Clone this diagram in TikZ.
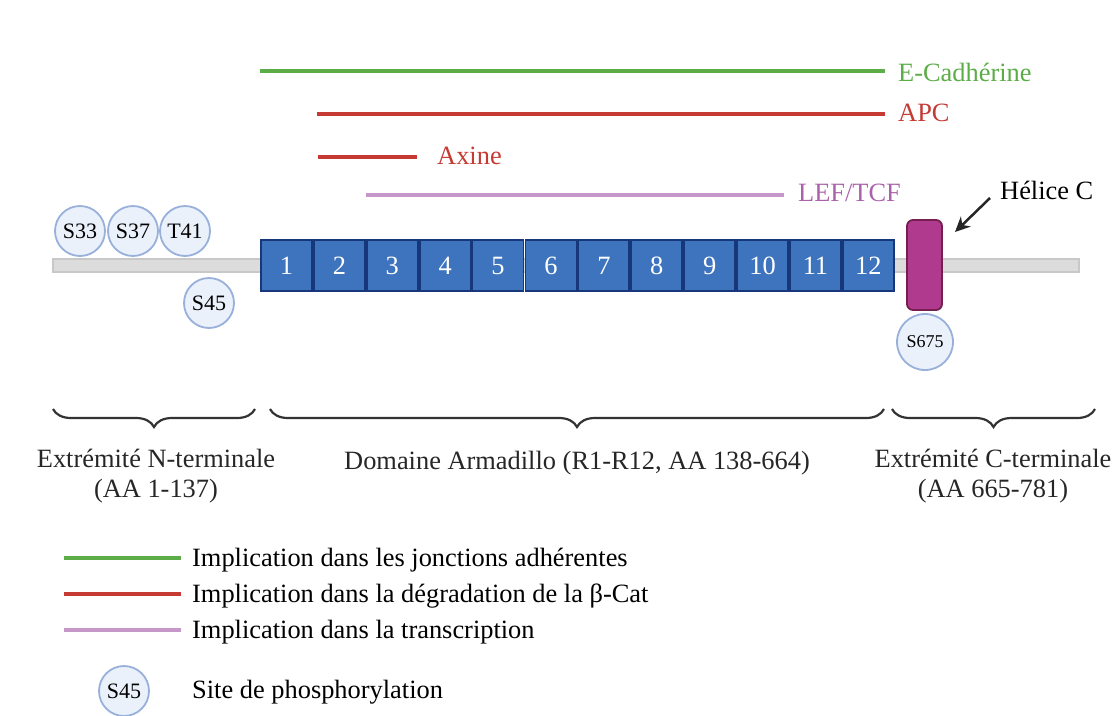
\documentclass[tikz,border=0pt]{standalone}
\usepackage{fontspec}
\setmainfont{Liberation Serif}
\usepackage{tikz}
\usetikzlibrary{positioning,arrows.meta,decorations.pathreplacing}
\definecolor{cadgreen}{RGB}{92,172,72}
\definecolor{apcred}{RGB}{198,58,52}
\definecolor{leflight}{RGB}{198,152,202}
\definecolor{lefdark}{RGB}{170,98,170}
\definecolor{armfill}{RGB}{62,116,190}
\definecolor{armdraw}{RGB}{22,56,122}
\definecolor{helfill}{RGB}{176,58,142}
\definecolor{heldraw}{RGB}{118,30,80}
\definecolor{phfill}{RGB}{234,241,251}
\definecolor{phdraw}{RGB}{152,176,218}
\definecolor{barfill}{RGB}{220,220,220}
\definecolor{bardraw}{RGB}{200,200,200}

\begin{document}
\begin{tikzpicture}[x=1pt, y={(0pt,-1pt)},
		every node/.style={font=\fontsize{26.4}{30}\selectfont},
		repeatbox/.style={rectangle, draw=armdraw, fill=armfill, line width=1.8pt, text=white, minimum width=51pt, minimum height=51pt, inner sep=0pt},
		phospho/.style={circle, draw=phdraw, fill=phfill, line width=1.8pt, minimum size=50pt, inner sep=0pt, font=\fontsize{22}{24}\selectfont},
		helix/.style={rectangle, rounded corners=6pt, draw=heldraw, fill=helfill, line width=1.8pt, minimum width=35pt, minimum height=90pt},
		partner/.style={line width=3.8pt},
		brc/.style={decorate, decoration={brace, amplitude=18pt}, line width=2.2pt, draw=black!80},
		lbl/.style={anchor=west, inner sep=0pt},
		zone/.style={align=center, inner sep=0pt, text=black!85}]
		\useasboundingbox (0,0) rectangle (1115,715);

		\draw[bardraw, fill=barfill, line width=1.5pt] (53,259) rectangle (1079,272);

		\foreach \i in {1,...,12}
			\node[repeatbox] (r\i) at ({260+52.9*(\i-0.5)},265.5) {\i};

		\node[helix] (helice) at (924.5,265) {};
		\node[phospho] (s33) at (80,231) {S33};
		\node[phospho] (s37) at (133,231) {S37};
		\node[phospho] (t41) at (185,231) {T41};
		\node[phospho] (s45) at (209,303) {S45};
		\node[phospho, minimum size=56pt, font=\fontsize{18}{20}\selectfont] (s675) at (925,342) {S675};

		\coordinate (cad0) at (260,71);
		\coordinate (cad1) at (885,71);
		\coordinate (apc0) at (317,114);
		\coordinate (apc1) at (885,114);
		\coordinate (axi0) at (318,157);
		\coordinate (axi1) at (417,157);
		\coordinate (lef0) at (366,195);
		\coordinate (lef1) at (784,195);
		\draw[partner, cadgreen] (cad0) -- (cad1);
		\draw[partner, apcred] (apc0) -- (apc1);
		\draw[partner, apcred] (axi0) -- (axi1);
		\draw[partner, leflight] (lef0) -- (lef1);
		\node[lbl, text=cadgreen] (cadlbl) at (898,72) {E-Cadhérine};
		\node[lbl, text=apcred] (apclbl) at (898,113) {APC};
		\node[lbl, text=apcred] (axilbl) at (437,156) {Axine};
		\node[lbl, text=lefdark] (leflbl) at (798,193) {LEF/TCF};

		\node[lbl] (hellbl) at (1000,190) {Hélice C};
		\coordinate (helarr0) at (990,198);
		\coordinate (helarr1) at (955,232);
		\draw[-{Stealth[length=15pt,width=14pt]}, line width=2.5pt, black!85] (helarr0) -- (helarr1);

		\draw[brc] (255,409) -- (53,409);
		\draw[brc] (884,409) -- (270,409);
		\draw[brc] (1095,409) -- (892,409);
		\node[zone] (nterm) at (156,476) {Extrémité N-terminale\\(AA 1-137)};
		\node[zone] (arm) at (577,463) {Domaine Armadillo (R1-R12, AA 138-664)};
		\node[zone] (cterm) at (993,476) {Extrémité C-terminale\\(AA 665-781)};

		\coordinate (leg1a) at (64,558);
		\coordinate (leg1b) at (181,558);
		\coordinate (leg2a) at (64,594);
		\coordinate (leg2b) at (181,594);
		\coordinate (leg3a) at (64,630);
		\coordinate (leg3b) at (181,630);
		\draw[partner, cadgreen] (leg1a) -- (leg1b);
		\draw[partner, apcred] (leg2a) -- (leg2b);
		\draw[partner, leflight] (leg3a) -- (leg3b);
		\node[lbl] (leg1) at (192,560) {Implication dans les jonctions adhérentes};
		\node[lbl] (leg2) at (192,596) {Implication dans la dégradation de la β-Cat};
		\node[lbl] (leg3) at (192,632) {Implication dans la transcription};
		\node[phospho] (legs45) at (124,691) {S45};
		\node[lbl] (leg4) at (192,692) {Site de phosphorylation};
\end{tikzpicture}
\end{document}
